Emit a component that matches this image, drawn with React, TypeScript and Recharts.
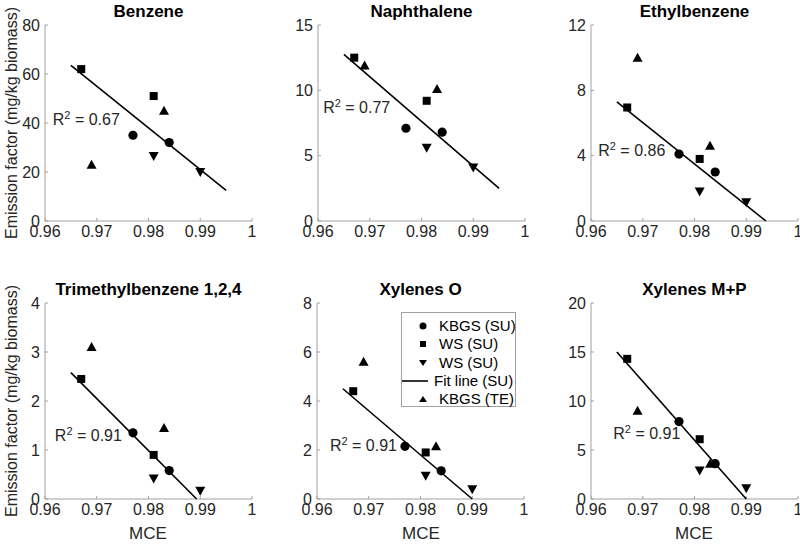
import React from 'react'
import {
  ScatterChart,
  Scatter,
  XAxis,
  YAxis,
  ReferenceDot
} from 'recharts'

// MCE values per group (same for every compound)
const kbgsSuX = [0.977, 0.984]
const wsSuSquareX = [0.967, 0.981]
const wsSuDownX = [0.981, 0.99]
const kbgsTeX = [0.969, 0.983]

const titles = ['Benzene', 'Naphthalene', 'Ethylbenzene', 'Trimethylbenzene 1,2,4', 'Xylenes O', 'Xylenes M+P']
const yMax = [80, 15, 12, 4, 8, 20]
const yTicks = [
  [0, 20, 40, 60, 80],
  [0, 5, 10, 15],
  [0, 4, 8, 12],
  [0, 1, 2, 3, 4],
  [0, 2, 4, 6, 8],
  [0, 5, 10, 15, 20]
]
const xTicks = [0.96, 0.97, 0.98, 0.99, 1]

// emission factors (mg/kg biomass)
const kbgsSuY = [[35, 32], [7.1, 6.8], [4.1, 3.0], [1.35, 0.58], [2.15, 1.15], [7.9, 3.6]]
const wsSuSquareY = [[62, 51], [12.5, 9.2], [6.95, 3.8], [2.45, 0.9], [4.4, 1.9], [14.3, 6.1]]
const wsSuDownY = [[26.5, 20], [5.6, 4.1], [1.8, 1.15], [0.42, 0.17], [0.95, 0.4], [2.9, 1.1]]
const kbgsTeY = [[23, 45], [11.9, 10.1], [10.0, 4.6], [3.1, 1.45], [5.6, 2.15], [9.0, 3.6]]

// fit line end points [x0, y0, x1, y1]
const fitLines = [
  [0.965, 63.5, 0.995, 12.5],
  [0.965, 12.75, 0.995, 2.5],
  [0.965, 7.3, 0.9938, 0],
  [0.965, 2.58, 0.9893, 0],
  [0.965, 4.5, 0.99, 0],
  [0.965, 15, 0.99, 0]
]
const r2Values = ['0.67', '0.77', '0.86', '0.91', '0.91', '0.91']
const r2Pos = [
  [0.9615, 41.6],
  [0.961, 8.7],
  [0.9614, 4.33],
  [0.9619, 1.31],
  [0.9625, 2.2],
  [0.9643, 6.7]
]

const legendItems = ['KBGS (SU)', 'WS (SU)', 'WS (SU)', 'Fit line (SU)', 'KBGS (TE)']

// plot area top-left corner of each panel
const panelPos = [
  [45, 25], [318, 25], [591, 25],
  [45, 303], [317, 303], [591, 303]
]

const PLOT_W = 207
const PLOT_H = 196
const AXIS_GRAY = '#a0a0a0'
const TEXT = '#262626'
const FONT = 'Arial, "Liberation Sans", Helvetica, sans-serif'

const toPts = (xs: number[], ys: number[]) => xs.map((x, i) => ({ x, y: ys[i] }))

const Circle = (p: any) => <circle cx={p.cx} cy={p.cy} r={4.6} fill="#000" />
const Square = (p: any) => <rect x={p.cx - 4} y={p.cy - 4} width={8} height={8} fill="#000" />
const Down = (p: any) => (
  <polygon points={`${p.cx - 5},${p.cy - 4} ${p.cx + 5},${p.cy - 4} ${p.cx},${p.cy + 5}`} fill="#000" />
)
const Up = (p: any) => (
  <polygon points={`${p.cx - 5},${p.cy + 4} ${p.cx + 5},${p.cy + 4} ${p.cx},${p.cy - 5}`} fill="#000" />
)
const NoShape = () => null

const R2Label = ({ viewBox, value }: any) => (
  <text x={viewBox.x} y={viewBox.y + 6} fontSize={16} fill={TEXT} fontFamily={FONT}>
    R<tspan dy={-6} fontSize={11}>2</tspan>
    <tspan dy={6}>{` = ${value}`}</tspan>
  </text>
)

function Panel({ i }: { i: number }) {
  const [px, py] = panelPos[i]
  const [x0, y0, x1, y1] = fitLines[i]
  const fit = [{ x: x0, y: y0 }, { x: x1, y: y1 }]
  const tickStyle = { fill: TEXT, fontSize: 16, fontFamily: FONT }
  return (
    <div style={{ position: 'absolute', left: px - 45, top: py - 25, width: 262, height: 261 }}>
      <div
        style={{
          position: 'absolute',
          left: 45,
          width: PLOT_W,
          top: 2,
          textAlign: 'center',
          fontFamily: FONT,
          fontWeight: 'bold',
          fontSize: 17,
          color: '#000',
          whiteSpace: 'nowrap'
        }}
      >
        {titles[i]}
      </div>
      <ScatterChart width={262} height={261} margin={{ top: 25, right: 10, left: 0, bottom: 0 }}>
        <XAxis
          type="number"
          dataKey="x"
          xAxisId="b"
          domain={[0.96, 1]}
          ticks={xTicks}
          allowDataOverflow
          height={40}
          stroke={AXIS_GRAY}
          tickSize={-3}
          tickMargin={8}
          tick={tickStyle}
          tickFormatter={(v: number) => String(v)}
        />
        <XAxis
          type="number"
          dataKey="x"
          xAxisId="t"
          orientation="top"
          domain={[0.96, 1]}
          ticks={xTicks}
          height={0}
          stroke={AXIS_GRAY}
          tickSize={-3}
          tickFormatter={() => ''}
        />
        <YAxis
          type="number"
          dataKey="y"
          yAxisId="l"
          domain={[0, yMax[i]]}
          ticks={yTicks[i]}
          width={45}
          stroke={AXIS_GRAY}
          tickSize={-3}
          tickMargin={8}
          tick={tickStyle}
        />
        <YAxis
          type="number"
          dataKey="y"
          yAxisId="r"
          orientation="right"
          domain={[0, yMax[i]]}
          ticks={yTicks[i]}
          width={0}
          stroke={AXIS_GRAY}
          tickSize={-3}
          tickFormatter={() => ''}
        />
        <Scatter xAxisId="b" yAxisId="l" data={fit} line={{ stroke: '#000', strokeWidth: 1.6 }} shape={NoShape} isAnimationActive={false} />
        <Scatter xAxisId="b" yAxisId="l" data={toPts(kbgsSuX, kbgsSuY[i])} shape={Circle} isAnimationActive={false} />
        <Scatter xAxisId="b" yAxisId="l" data={toPts(wsSuSquareX, wsSuSquareY[i])} shape={Square} isAnimationActive={false} />
        <Scatter xAxisId="b" yAxisId="l" data={toPts(wsSuDownX, wsSuDownY[i])} shape={Down} isAnimationActive={false} />
        <Scatter xAxisId="b" yAxisId="l" data={toPts(kbgsTeX, kbgsTeY[i])} shape={Up} isAnimationActive={false} />
        <ReferenceDot
          xAxisId="b"
          yAxisId="l"
          x={r2Pos[i][0]}
          y={r2Pos[i][1]}
          r={0}
          stroke="none"
          label={<R2Label value={r2Values[i]} />}
        />
      </ScatterChart>
    </div>
  )
}

const legendMarkers = [
  <circle cx={8} cy={8} r={3.5} fill="#000" />,
  <rect x={5} y={5} width={6} height={6} fill="#000" />,
  <polygon points="4,5 12,5 8,11" fill="#000" />,
  <line x1={-13} y1={8} x2={13} y2={8} stroke="#000" strokeWidth={1.6} />,
  <polygon points="4,11 12,11 8,5" fill="#000" />
]

function LegendBox() {
  return (
    <div
      style={{
        position: 'absolute',
        left: 401,
        top: 312,
        width: 113,
        height: 93,
        border: `1px solid ${AXIS_GRAY}`,
        background: '#fff',
        fontFamily: FONT,
        fontSize: 15,
        color: '#000'
      }}
    >
      {legendItems.map((txt, k) => (
        <div
          key={k}
          style={{
            position: 'absolute',
            left: 13,
            top: 5 + k * 18.3,
            height: 16,
            display: 'flex',
            alignItems: 'center',
            whiteSpace: 'nowrap'
          }}
        >
          <svg width={16} height={16} style={{ overflow: 'visible' }}>{legendMarkers[k]}</svg>
          <span style={{ marginLeft: k === 3 ? 3 : 8, lineHeight: '16px' }}>{txt}</span>
        </div>
      ))}
    </div>
  )
}

const yLabel = 'Emission factor (mg/kg biomass)'

export default function App() {
  return (
    <div style={{ position: 'absolute', left: 0, top: 0, width: 800, height: 545, background: '#fff', overflow: 'hidden' }}>
      {titles.map((_, i) => (
        <Panel key={i} i={i} />
      ))}
      {[123, 401].map((cy, k) => (
        <div
          key={k}
          style={{
            position: 'absolute',
            left: 12 - 150,
            top: cy - 10,
            width: 300,
            height: 20,
            lineHeight: '20px',
            textAlign: 'center',
            transform: 'rotate(-90deg)',
            fontFamily: FONT,
            fontSize: 16,
            color: TEXT,
            whiteSpace: 'nowrap'
          }}
        >
          {yLabel}
        </div>
      ))}
      {[148, 421, 694].map((cx, k) => (
        <div
          key={k}
          style={{
            position: 'absolute',
            left: cx - 40,
            top: 524,
            width: 80,
            textAlign: 'center',
            fontFamily: FONT,
            fontSize: 17,
            color: TEXT
          }}
        >
          MCE
        </div>
      ))}
      <LegendBox />
    </div>
  )
}
